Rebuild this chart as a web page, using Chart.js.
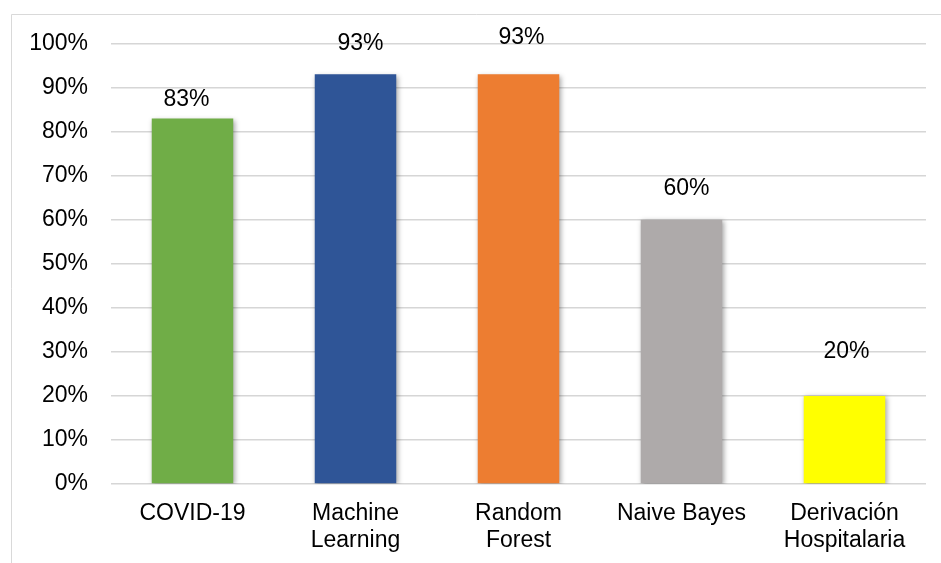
<!DOCTYPE html>
<html>
<head>
<meta charset="utf-8">
<script src="https://cdn.jsdelivr.net/npm/chart.js@4"></script>
<style>
  html, body { margin: 0; padding: 0; background: #ffffff; }
  canvas { display: block; }
</style>
</head>
<body>
<canvas id="chart" width="941" height="563"></canvas>
<script>
// Categories (multi-line where the axis label wraps)
const categories = [
  "COVID-19",
  ["Machine", "Learning"],
  ["Random", "Forest"],
  "Naive Bayes",
  ["Derivación", "Hospitalaria"]
];
// Percentages per category
const values = [83, 93, 93, 60, 20];
// Y axis tick values
const yTicks = [0, 10, 20, 30, 40, 50, 60, 70, 80, 90, 100];
// Bar fill colours
const barColors = ["#70AD47", "#2F5597", "#ED7D31", "#AEAAAA", "#FFFF00"];

const FONT = "'Liberation Sans', Arial, Helvetica, sans-serif";

// Outer frame and white background
const framePlugin = {
  id: "frame",
  beforeDraw(chart) {
    const ctx = chart.ctx;
    ctx.save();
    ctx.fillStyle = "#ffffff";
    ctx.fillRect(0, 0, chart.width, chart.height);
    ctx.strokeStyle = "#d9d9d9";
    ctx.lineWidth = 1;
    ctx.beginPath();
    ctx.moveTo(11.5, chart.height);
    ctx.lineTo(11.5, 14.5);
    ctx.lineTo(chart.width, 14.5);
    ctx.stroke();
    ctx.restore();
  }
};

// Soft drop shadow under the bars
const shadowPlugin = {
  id: "barShadow",
  beforeDatasetsDraw(chart) {
    const ctx = chart.ctx;
    ctx.save();
    ctx.shadowColor = "rgba(0,0,0,0.35)";
    ctx.shadowBlur = 5;
    ctx.shadowOffsetX = 1.5;
    ctx.shadowOffsetY = 1.5;
  },
  afterDatasetsDraw(chart) {
    chart.ctx.restore();
  }
};

// Percentage labels above each bar
const valueLabelPlugin = {
  id: "valueLabels",
  afterDatasetsDraw(chart, args, opts) {
    const ctx = chart.ctx;
    const meta = chart.getDatasetMeta(0);
    const data = chart.data.datasets[0].data;
    ctx.save();
    ctx.font = opts.font;
    ctx.fillStyle = opts.color;
    ctx.textAlign = "center";
    ctx.textBaseline = "middle";
    meta.data.forEach((bar, i) => {
      const dx = (opts.dx && opts.dx[i]) || 0;
      const dy = (opts.dy && opts.dy[i]) || 0;
      ctx.fillText(data[i] + "%", bar.x + dx, bar.y - dy);
    });
    ctx.restore();
  }
};

new Chart(document.getElementById("chart"), {
  type: "bar",
  data: {
    labels: categories,
    datasets: [{
      data: values,
      backgroundColor: barColors,
      borderWidth: 0,
      categoryPercentage: 1.0,
      barPercentage: 0.5
    }]
  },
  options: {
    responsive: false,
    animation: false,
    devicePixelRatio: 1,
    layout: { padding: { top: 43.5, right: 15, bottom: 0, left: 0 } },
    plugins: {
      legend: { display: false },
      tooltip: { enabled: false },
      valueLabels: {
        font: "23px " + FONT,
        color: "#000000",
        dx: [-6, 5, 3, 5, 2],
        dy: [19, 31, 37, 31, 44]
      }
    },
    scales: {
      x: {
        grid: { display: false, drawTicks: false },
        border: { display: false },
        ticks: {
          color: "#000000",
          font: { family: FONT, size: 23, lineHeight: 1.17 },
          padding: 16,
          maxRotation: 0,
          autoSkip: false
        },
        afterFit(scale) { scale.height = 79; }
      },
      y: {
        min: 0,
        max: 100,
        afterBuildTicks(scale) { scale.ticks = yTicks.map(v => ({ value: v })); },
        grid: { color: "#d6d6d6", lineWidth: 1.5, drawTicks: false },
        border: { display: false },
        ticks: {
          color: "#000000",
          font: { family: FONT, size: 23 },
          padding: 23,
          callback: v => v + "%"
        },
        afterFit(scale) { scale.width = 111; }
      }
    }
  },
  plugins: [framePlugin, shadowPlugin, valueLabelPlugin]
});
</script>
</body>
</html>
